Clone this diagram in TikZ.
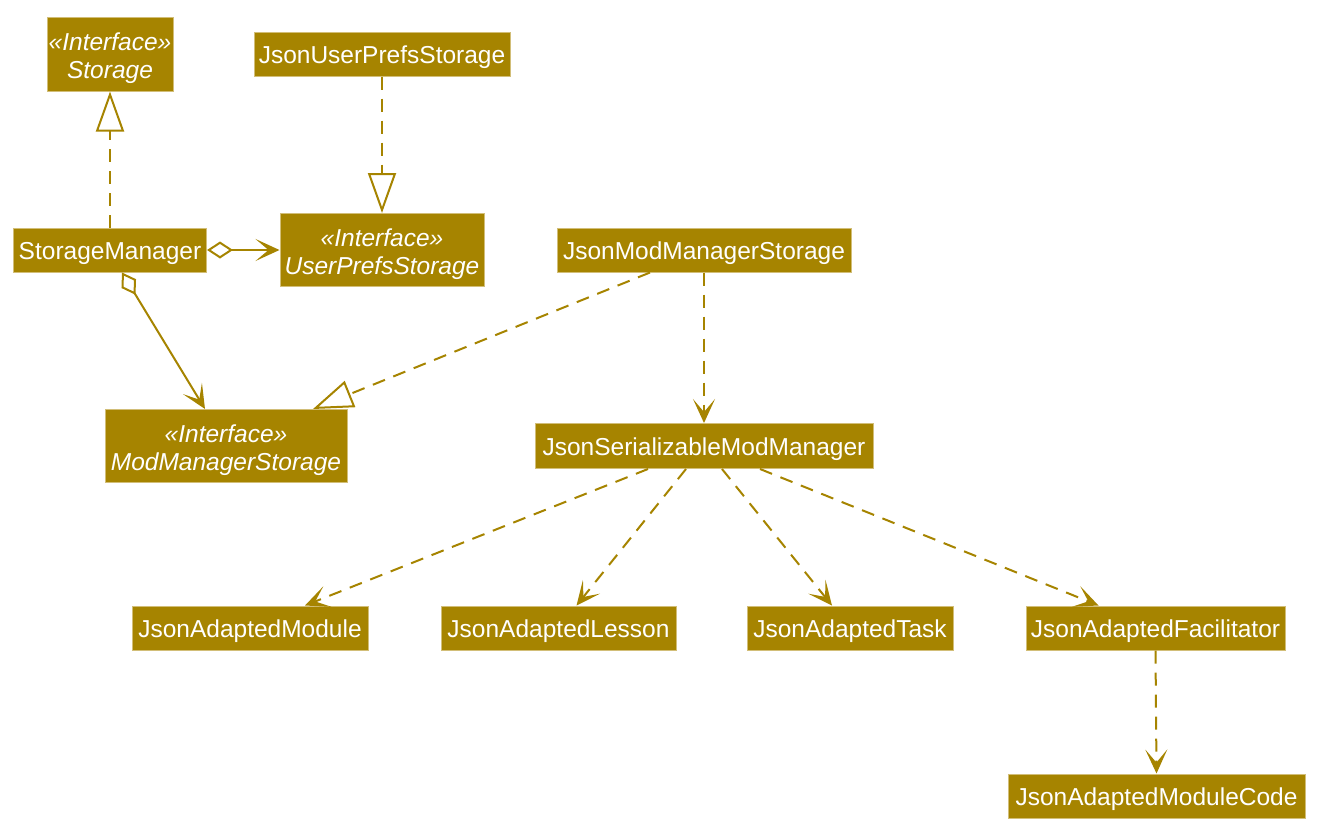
\documentclass[tikz,border=0pt]{standalone}
\usepackage{fontspec}
\setmainfont{Liberation Sans}
\usetikzlibrary{arrows.meta}
\definecolor{umlfill}{HTML}{A68400}
\definecolor{umlborder}{HTML}{D2BE78}
\newcommand{\firststrut}{\rule{0pt}{25.5pt}}
\begin{document}
\begin{tikzpicture}[x=1pt,y=-1pt,
  cls/.style={fill=umlfill, draw=umlborder, line width=1pt, text=white,
    font=\fontsize{24.5pt}{28pt}\selectfont, inner sep=0pt,
    text height=22pt, text depth=4pt,
    minimum height=44pt, align=center},
  iface/.style={fill=umlfill, draw=umlborder, line width=1pt, text=white,
    inner sep=0pt, align=center, minimum height=73pt,
    font=\fontsize{24.5pt}{28pt}\selectfont\itshape},
  conn/.style={draw=umlfill, line width=2pt},
  dep/.style={conn, dash pattern=on 13pt off 9pt,
    -{Stealth[length=24pt, width=22pt, inset=13pt]}},
  real/.style={conn, dash pattern=on 13pt off 9pt,
    -{Triangle[open, length=40pt, width=28pt, fill=white]}},
  aggr/.style={conn, {Diamond[open, length=26pt, width=17pt, fill=white]}-{Stealth[length=24pt, width=22pt, inset=13pt]}}
]
\useasboundingbox (0,0) rectangle (1325,839);

% classes and interfaces
\node[iface, minimum width=126pt, minimum height=74pt] (storage) at (110,54) {\firststrut«Interface»\\Storage};
\node[cls, minimum width=256pt] (jups) at (382,54) {JsonUserPrefsStorage};
\node[cls, minimum width=193pt] (sm) at (110,250) {StorageManager};
\node[iface, minimum width=204pt] (ups) at (382,250) {\firststrut«Interface»\\UserPrefsStorage};
\node[cls, minimum width=294pt] (jmms) at (704,250) {JsonModManagerStorage};
\node[iface, minimum width=242pt] (mms) at (226,446) {\firststrut«Interface»\\ModManagerStorage};
\node[cls, minimum width=338pt, minimum height=45pt] (jsmm) at (704,446) {JsonSerializableModManager};
\node[cls, minimum width=236pt] (jam) at (250,628) {JsonAdaptedModule};
\node[cls, minimum width=235pt] (jal) at (558.5,628) {JsonAdaptedLesson};
\node[cls, minimum width=206pt] (jat) at (850,628) {JsonAdaptedTask};
\node[cls, minimum width=259pt] (jaf) at (1155.5,628) {JsonAdaptedFacilitator};
\node[cls, minimum width=297pt] (jamc) at (1156.5,796) {JsonAdaptedModuleCode};

% realizations
\draw[real] (sm.north) -- (storage.south);
\draw[real] (jups.south) -- (ups.north);
\draw[real] ([xshift=-54pt]jmms.south) -- ([xshift=87pt]mms.north);

% aggregations
\draw[aggr] (sm.east) -- (ups.west);
\draw[aggr] ([xshift=12pt]sm.south) -- ([xshift=-21pt]mms.north);

% dependencies
\draw[dep] (jmms.south) -- (jsmm.north);
\draw[dep] ([xshift=-56pt]jsmm.south) -- ([xshift=55pt]jam.north);
\draw[dep] ([xshift=-18pt]jsmm.south) -- ([xshift=18pt]jal.north);
\draw[dep] ([xshift=18pt]jsmm.south) -- ([xshift=-18pt]jat.north);
\draw[dep] ([xshift=56pt]jsmm.south) -- ([xshift=-57pt]jaf.north);
\draw[dep] (jaf.south) -- (jamc.north);
\end{tikzpicture}
\end{document}
